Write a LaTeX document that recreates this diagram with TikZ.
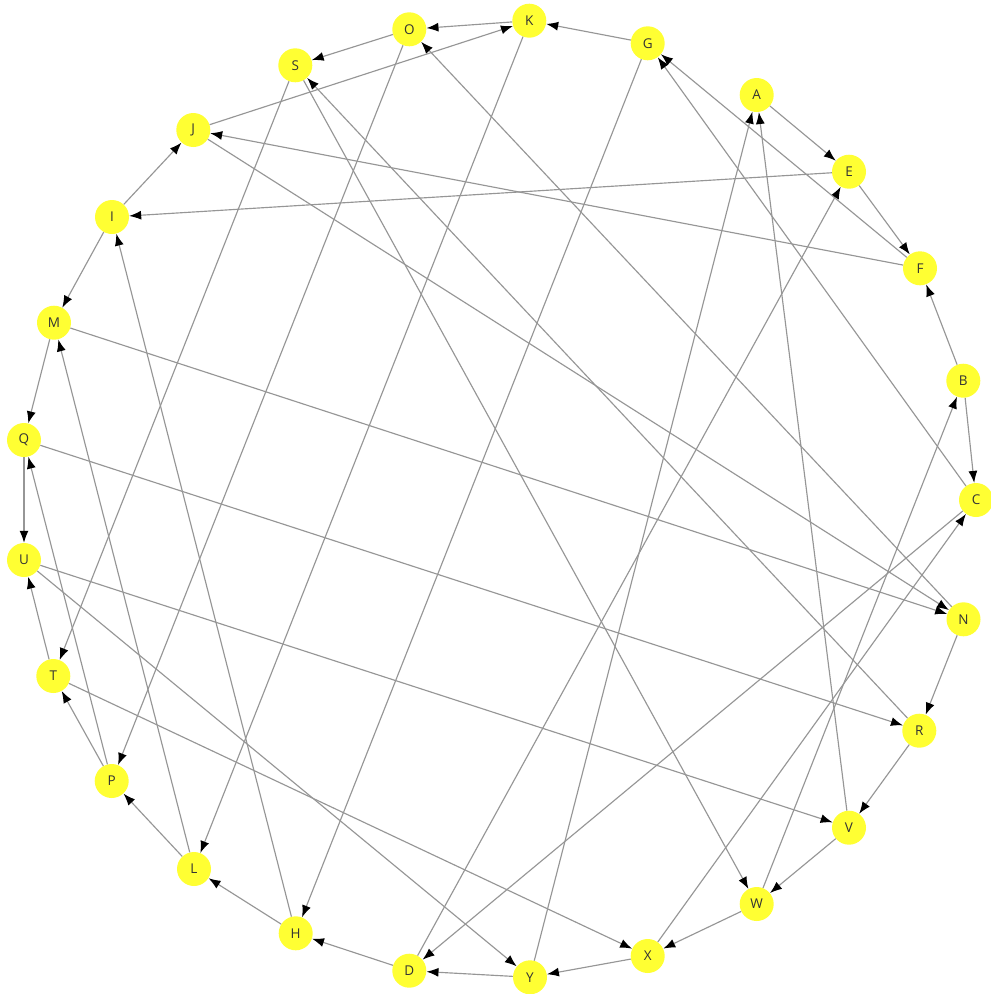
\documentclass[tikz,border=0pt]{standalone}
\usepackage{fontspec}
\setmainfont{Open Sans}
\usetikzlibrary{arrows.meta}
\definecolor{nodeyellow}{RGB}{255,255,51}
\definecolor{edgegray}{RGB}{150,150,150}
\tikzset{
  vtx/.style={circle, fill=nodeyellow, draw=none, minimum size=34pt, inner sep=0pt,
    font=\fontsize{13.5}{15}\selectfont, text=black!80},
  edge/.style={draw=edgegray, line width=1.15pt, -{Latex[length=12pt,width=9pt,color=black]}}
}
\begin{document}
\begin{tikzpicture}[x=1pt,y=-1pt]
\useasboundingbox (0,0) rectangle (991,994);
\node[vtx] (O) at (409.3,29.3) {O};
\node[vtx] (K) at (529.3,20.7) {K};
\node[vtx] (G) at (647.7,43.3) {G};
\node[vtx] (A) at (756.7,95) {A};
\node[vtx] (E) at (849,171.7) {E};
\node[vtx] (F) at (920,268.3) {F};
\node[vtx] (B) at (963.3,380.7) {B};
\node[vtx] (C) at (976,500) {C};
\node[vtx] (N) at (963.5,619.3) {N};
\node[vtx] (R) at (919.3,730.7) {R};
\node[vtx] (V) at (849,827.7) {V};
\node[vtx] (W) at (756.7,904) {W};
\node[vtx] (X) at (647.7,956) {X};
\node[vtx] (Y) at (530,977.3) {Y};
\node[vtx] (D) at (409.3,970.7) {D};
\node[vtx] (H) at (295.7,933.3) {H};
\node[vtx] (L) at (194,869) {L};
\node[vtx] (P) at (111.7,781) {P};
\node[vtx] (T) at (53.3,676) {T};
\node[vtx] (U) at (24,560) {U};
\node[vtx] (Q) at (24,440) {Q};
\node[vtx] (M) at (54,322.7) {M};
\node[vtx] (I) at (112,217) {I};
\node[vtx] (J) at (193.3,130) {J};
\node[vtx] (S) at (295.3,65.3) {S};
\foreach \a/\b in {A/E, Y/A, V/A, B/F, B/C, W/B, C/D, C/G, X/C, D/H, D/E, Y/D,
  E/F, E/I, F/G, F/J, G/K, G/H, H/L, H/I, I/J, I/M, J/K, J/N, K/O, K/L,
  L/P, L/M, M/Q, M/N, N/R, N/O, O/S, O/P, P/T, P/Q, Q/U, Q/R, R/V, R/S,
  S/T, S/W, T/U, T/X, U/V, U/Y, V/W, W/X, X/Y}
  \draw[edge] (\a) -- (\b);
\end{tikzpicture}
\end{document}
